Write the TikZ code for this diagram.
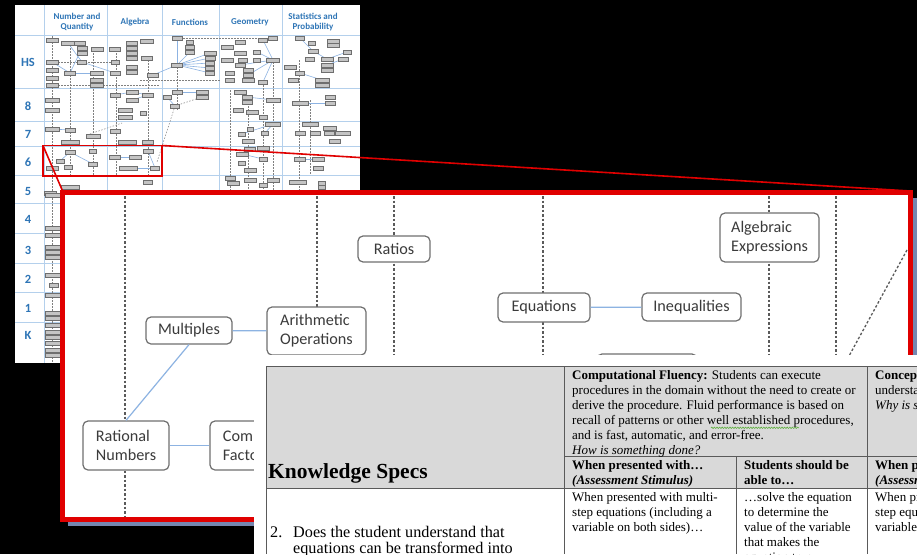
\documentclass[tikz,border=0pt]{standalone}
\usepackage{fontspec}
\setmainfont{Liberation Serif}
\newfontfamily\carlito{Carlito}
\usetikzlibrary{decorations.pathmorphing}

\definecolor{gridblue}{HTML}{B4D0EC}
\definecolor{labelblue}{HTML}{2E75B6}
\definecolor{thumbfill}{HTML}{C4C4C4}
\definecolor{thumbdraw}{HTML}{6E6E6E}
\definecolor{linkblue}{HTML}{8DB3E2}
\definecolor{alertred}{HTML}{E00000}
\definecolor{nodegray}{HTML}{6F6F6F}
\definecolor{textgray}{HTML}{3B3B3B}
\definecolor{headgray}{HTML}{D9D9D9}
\definecolor{rulegray}{HTML}{5A5A5A}
\definecolor{shadowblue}{HTML}{7587B0}
\definecolor{spellgreen}{HTML}{5FAF3F}

\tikzset{
  tbox/.style={fill=thumbfill, draw=thumbdraw, line width=0.45pt},
  tlink/.style={linkblue, line width=0.6pt},
  tdash/.style={gray, line width=0.5pt, dash pattern=on 1.5pt off 1.5pt},
  hdr/.style={font=\carlito\bfseries\fontsize{9}{10}\selectfont, text=labelblue, align=center, inner sep=0pt},
  rowlab/.style={font=\carlito\bfseries\fontsize{12.5}{14}\selectfont, text=labelblue, inner sep=0pt},
  concept/.style={draw=nodegray, line width=1.2pt, rounded corners=5pt, fill=white, text=textgray,
    font=\carlito\fontsize{16.2}{19}\selectfont, align=left, inner sep=0pt},
  guide/.style={draw=rulegray, line width=1.3pt, dash pattern=on 2.5pt off 2pt},
  link/.style={draw=linkblue, line width=1.2pt},
  cell/.style={anchor=base west, inner sep=0pt, font=\fontsize{13}{15}\selectfont},
  rule/.style={draw=rulegray, line width=0.8pt},
}

\begin{document}
\begin{tikzpicture}[x=1pt,y=-1pt]
\useasboundingbox (0,0) rectangle (917,554);
\fill[black] (0,0) rectangle (917,554);

% ---------------- overview chart ----------------
\fill[white] (15,5) rectangle (360,363);
\foreach \gx in {44,107,162,219,282}
  \draw[gridblue, line width=0.7pt] (\gx,5) -- (\gx,363);
\foreach \gy in {35,88,121,146,175,203,233,263,292,322}
  \draw[gridblue, line width=0.7pt] (15,\gy) -- (360,\gy);

\node[hdr] (hnq) at (77,22) {Number and\\Quantity};
\node[hdr] (halg) at (135,22) {Algebra};
\node[hdr] (hfun) at (190,22) {Functions};
\node[hdr] (hgeo) at (250,22) {Geometry};
\node[hdr] (hsta) at (313,22) {Statistics and\\Probability};

\foreach \lab/\ly/\nm in {HS/62/lhs, 8/106/l8, 7/134/l7, 6/162/l6, 5/191/l5,
                          4/219/l4, 3/250/l3, 2/279/l2, 1/308/l1, K/335/lk}
  \node[rowlab] (\nm) at (28,\ly) {\lab};

% dashed strands
\foreach \xa/\ya/\yb in {52/36/363, 70/45/175, 93/50/175, 116/50/175, 148/60/175,
    177/40/110, 230/90/190, 248/100/190, 263/82/190, 273/62/190, 299/60/190, 310/100/175}
  \draw[tdash] (\xa,\ya) -- (\xa,\yb);
\foreach \xa/\ya/\xb/\yb in {52/62/120/62, 52/85/160/85, 140/80/220/80, 180/38/277/38,
    87/135/122/123, 175/106/157/162, 202/97/175/106}
  \draw[tdash] (\xa,\ya) -- (\xb,\yb);

% light blue links
\foreach \xa/\ya/\xb/\yb in {177/65/210/53, 177/65/210/58, 177/65/210/63, 177/65/210/68,
    177/65/210/73, 177/65/190/52, 177/65/153/75, 177/65/177/38, 273/60/240/65, 273/60/248/75,
    273/60/263/82, 273/60/257/52, 273/60/263/40, 313/51/300/38, 313/51/327/59, 327/59/347/52,
    327/65/343/59, 322/80/300/73, 70/73/52/62, 70/73/82/48, 70/73/97/73, 68/43/82/62,
    82/62/115/73, 132/92/115/95, 132/92/148/95, 148/95/132/100, 167/97/175/106,
    177/92/202/92, 247/97/273/100, 300/103/330/103, 70/130/52/129, 273/124/242/134,
    273/124/265/133, 70/152/93/164, 60/161/70/152, 115/157/135/157, 148/151/155/168,
    128/168/155/168, 242/154/263/159, 300/159/318/159}
  \draw[tlink] (\xa,\ya) -- (\xb,\yb);

% small concept boxes
\foreach \bx/\by/\bw in {
    52/40/12, 68/43/13, 80/43/11, 82/48/10, 82/53/10, 97/49/12, 52/62/12, 52/70/12,
    52/78/12, 52/85/12, 70/73/11, 82/62/9, 97/73/13, 97/80/13, 97/85/13, 115/49/11,
    115/62/8, 115/73/10, 132/43/11, 132/48/11, 132/53/11, 132/58/11, 147/41/13,
    147/58/11, 132/67/11, 132/72/11, 153/75/11, 177/38/10, 190/42/7, 190/47/9,
    190/52/9, 177/65/11, 210/53/12, 210/58/10, 210/63/9, 210/68/9, 210/73/9,
    227/47/12, 240/42/10, 263/40/9, 273/38/9, 240/53/12, 257/52/7, 227/60/12,
    243/60/9, 257/60/7, 273/60/13, 240/65/10, 248/70/10, 248/75/10, 248/80/12,
    230/73/9, 230/80/9, 263/82/9, 300/38/9, 312/43/7, 333/41/12, 333/45/12,
    313/51/10, 347/52/8, 310/59/9, 327/59/12, 343/59/10, 290/67/12, 327/65/12,
    327/70/12, 300/73/9, 322/80/14, 322/85/14, 293/80/10,
    52/100/14, 52/110/14, 115/95/10, 132/92/12, 148/95/11, 132/100/12, 125/110/14,
    125/117/14, 143/113/6, 167/97/8, 177/92/10, 202/92/12, 202/97/12, 175/106/9,
    240/92/12, 247/97/10, 247/102/10, 273/100/14, 238/110/10, 252/112/12, 263/117/8,
    300/103/16, 330/97/10, 330/103/10,
    52/129/14, 70/130/10, 70/142/18, 93/136/14, 115/131/10, 127/142/18, 148/142/11,
    273/124/15, 250/129/6, 242/134/7, 265/133/7, 248/141/12, 310/124/16, 330/128/13,
    300/133/10, 315/133/10, 329/133/10, 343/133/15, 335/141/11,
    70/152/10, 60/161/8, 52/168/12, 68/167/8, 93/151/7, 93/164/9, 115/157/11,
    135/157/12, 148/151/10, 128/168/18, 155/168/9, 250/149/11, 263/148/12,
    242/154/12, 263/159/8, 242/163/7, 250/170/12, 300/159/11, 318/159/12, 318/168/10,
    70/187/18, 148/182/9, 230/178/10, 233/183/12, 250/180/12, 273/180/12, 263/185/8,
    298/182/17, 322/183/7, 322/187/7, 50/193/12,
    53/195/16, 53/228/16, 53/235/16, 53/247/16, 53/252/16, 53/257/16, 53/275/16,
    54/285/9, 53/295/16, 53/313/16, 53/318/16, 53/325/16, 53/332/16, 53/337/16,
    53/343/16, 53/350/16, 53/355/16}
  \draw[tbox] (\bx-\bw/2,\by-2.1) rectangle (\bx+\bw/2,\by+2.1);

% highlighted region and its zoom rays
\draw[alertred, line width=1.8pt] (43,145.5) rectangle (162,176);
\draw[alertred, line width=1.6pt] (43,145.5) -- (63,192);
\draw[alertred, line width=1.6pt] (162,145.5) -- (910,191);

% ---------------- enlarged panel ----------------
\fill[shadowblue] (68,198) rectangle (917,526);
\fill[white] (62,192) rectangle (910,519);

\foreach \gx/\ya/\yb in {125/196/516, 317/196/307, 394/196/356, 543/196/356,
                         769/196/356, 836/196/356}
  \draw[guide] (\gx,\ya) -- (\gx,\yb);
\draw[guide] (907,250) -- (849,356);

\node[concept, minimum width=72pt, minimum height=26pt] (ratios) at (394,249) {Ratios};
\node[concept, minimum width=86pt, minimum height=27pt] (mult) at (189,330.5) {Multiples};
\node[concept, minimum width=99pt, minimum height=48pt] (arith) at (316.5,331) {Arithmetic\\Operations};
\node[concept, minimum width=92pt, minimum height=29pt] (eqn) at (544,307.5) {Equations};
\node[concept, minimum width=99pt, minimum height=28pt] (ineq) at (691.5,307) {Inequalities};
\node[concept, minimum width=99pt, minimum height=49pt] (algx) at (769.5,237.5) {Algebraic\\Expressions};
\node[concept, minimum width=86pt, minimum height=49pt] (ratn) at (126,445.5) {Rational\\Numbers};
\node[concept, minimum width=86pt, minimum height=49pt] (cfac) at (253,445.5) {Common\\Factors};
\node[concept, minimum width=100pt, minimum height=42pt] (below) at (647,375) {};
\coordinate (arithdown) at (316.5,362);

\draw[link] (mult) -- (arith);
\draw[link] (mult.south) -- (ratn.north);
\draw[link] (ratn) -- (cfac);
\draw[link] (eqn) -- (ineq);
\draw[link] (arith.south) -- (arithdown);

\draw[alertred, line width=5pt] (62.5,192.5) rectangle (910,519);

% ---------------- specification table ----------------
\fill[white] (254,355) rectangle (917,554);
\begin{scope}
\clip (254,355) rectangle (917,554);
\fill[headgray] (266,366) rectangle (917,488);
\draw[rule] (266,366) -- (917,366);
\draw[rule] (266,366) -- (266,554);
\draw[rule] (266,488) -- (917,488);
\draw[rule] (564,366) -- (564,554);
\draw[rule] (867,366) -- (867,554);
\draw[rule] (564,456) -- (917,456);
\draw[rule] (736,456) -- (736,554);

\node[anchor=base west, inner sep=0pt, font=\bfseries\fontsize{21.5}{24}\selectfont] (kspec) at (268,478) {Knowledge Specs};
\node[anchor=base west, inner sep=0pt, font=\fontsize{16.2}{16}\selectfont] (qnum) at (270,537) {2.};
\node[anchor=base west, inner sep=0pt, font=\fontsize{16.2}{16}\selectfont] (qa) at (293,537) {Does the student understand that};
\node[anchor=base west, inner sep=0pt, font=\fontsize{16.2}{16}\selectfont] (qb) at (293,553) {equations can be transformed into};

\node[cell] (c1) at (572,379) {\textbf{Computational Fluency:} Students can execute};
\node[cell] (c2) at (572,394) {procedures in the domain without the need to create or};
\node[cell] (c3) at (572,409) {derive the procedure. Fluid performance is based on};
\node[cell] (c4) at (572,424) {recall of patterns or other well established procedures,};
\node[cell] (c5) at (572,439) {and is fast, automatic, and error-free.};
\node[cell] (c6) at (572,454) {\textit{How is something done?}};
\draw[spellgreen, line width=0.6pt, decorate, decoration={snake, amplitude=0.7pt, segment length=2.6pt}]
  (711,427.8) -- (799,427.8);

\node[cell] (d1) at (572,469) {\textbf{When presented with…}};
\node[cell] (d2) at (572,484) {\textbf{\textit{(Assessment Stimulus)}}};
\node[cell] (e1) at (744,469) {\textbf{Students should be}};
\node[cell] (e2) at (744,484) {\textbf{able to…}};

\node[cell] (f1) at (572,501) {When presented with multi-};
\node[cell] (f2) at (572,516) {step equations (including a};
\node[cell] (f3) at (572,531) {variable on both sides)…};
\node[cell] (g1) at (744,501) {…solve the equation};
\node[cell] (g2) at (744,516) {to determine the};
\node[cell] (g3) at (744,531) {value of the variable};
\node[cell] (g4) at (744,546) {that makes the};
\node[cell] (g5) at (744,561) {equation true};

\node[cell] (h1) at (875,379) {\textbf{Conceptual}};
\node[cell] (h2) at (875,394) {understanding};
\node[cell] (h3) at (875,409) {\textit{Why is something}};
\node[cell] (h4) at (875,469) {\textbf{When presented}};
\node[cell] (h5) at (875,484) {\textbf{\textit{(Assessment}}};
\node[cell] (h6) at (875,501) {When presented};
\node[cell] (h7) at (875,516) {step equations};
\node[cell] (h8) at (875,531) {variable};
\end{scope}
\end{tikzpicture}
\end{document}
